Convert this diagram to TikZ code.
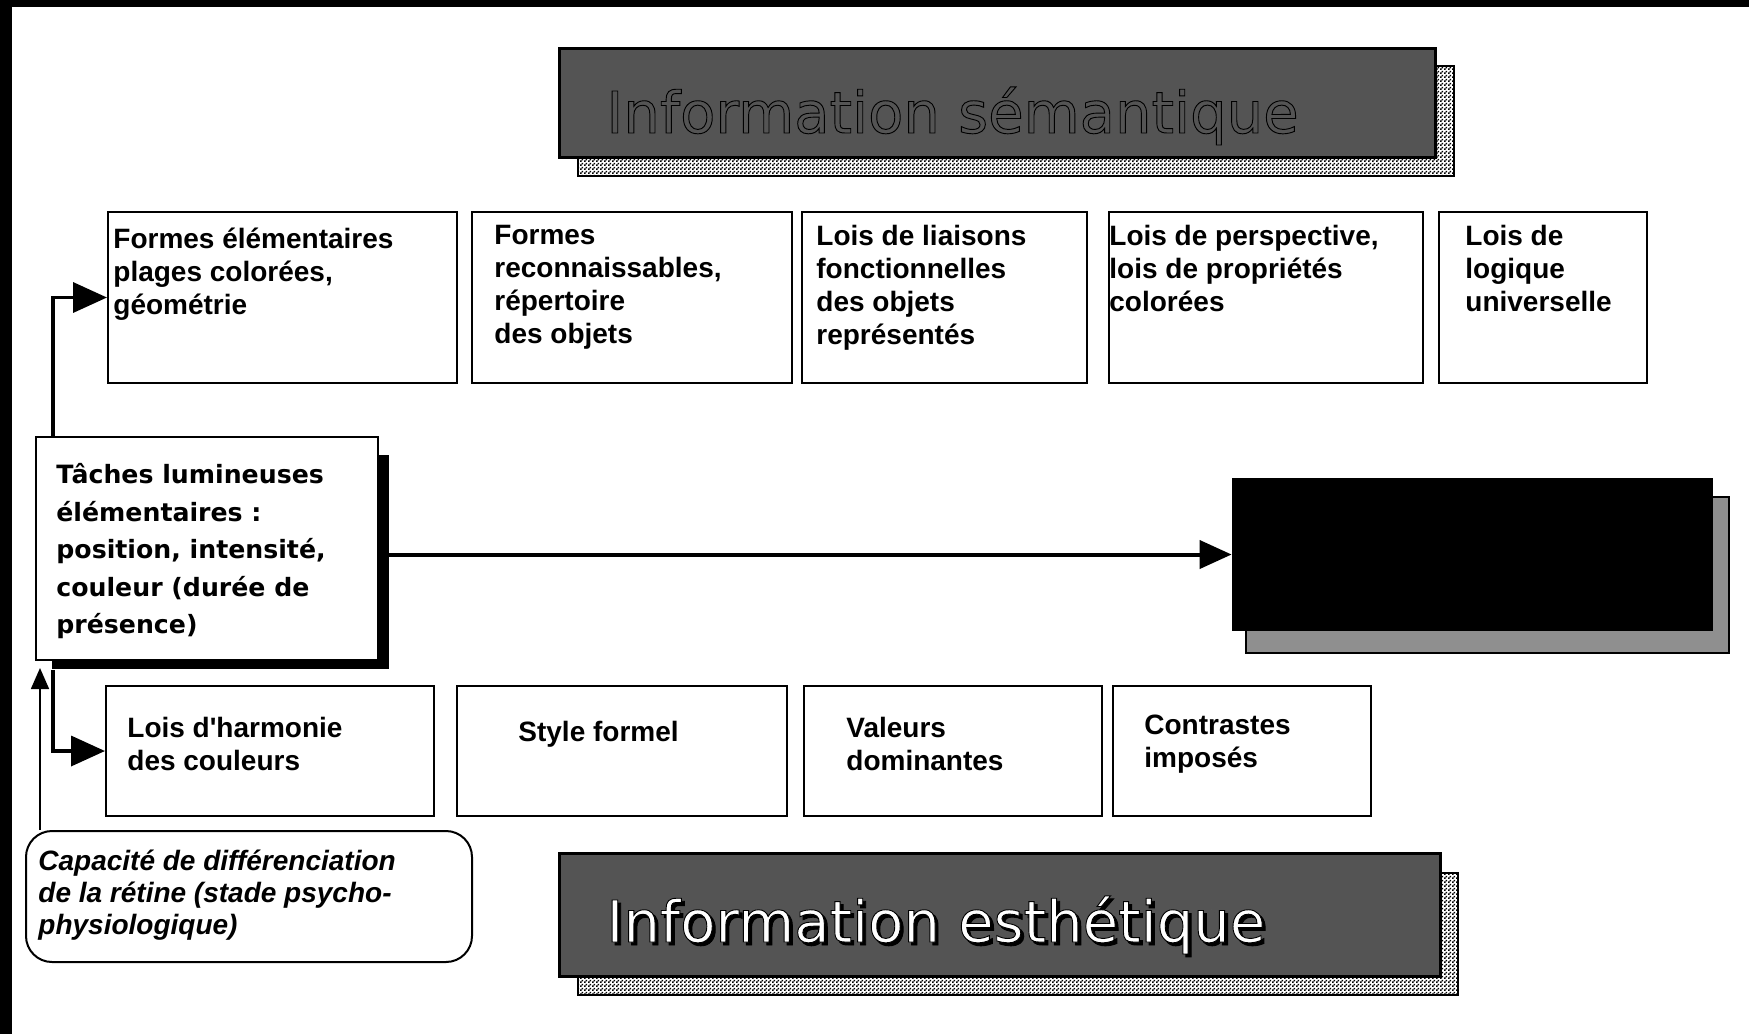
\documentclass[tikz,border=0pt]{standalone}
\usepackage{fontspec}
\newfontfamily\boxfont{Liberation Sans}
\newfontfamily\tachefont{DejaVu Sans}
\newfontfamily\titlefont[FakeBold=1.6]{DejaVu Sans}
\usetikzlibrary{calc,fit,patterns,arrows.meta}
\definecolor{titlegray}{RGB}{84,84,84}
\definecolor{shadowgray}{RGB}{143,143,143}
\pgfdeclarepatternformonly{finecheck}{\pgfqpoint{0pt}{0pt}}{\pgfqpoint{2pt}{2pt}}{\pgfqpoint{2pt}{2pt}}{%
  \pgfpathrectangle{\pgfqpoint{0pt}{0pt}}{\pgfqpoint{1pt}{1pt}}%
  \pgfpathrectangle{\pgfqpoint{1pt}{1pt}}{\pgfqpoint{1pt}{1pt}}%
  \pgfusepath{fill}}

\begin{document}
\begin{tikzpicture}[x=0.5pt,y=-0.5pt,
  cell/.style={draw,line width=1pt,inner sep=0pt},
  celltext/.style={anchor=north west,inner sep=0pt,align=left,
    font=\boxfont\bfseries\fontsize{14}{16.5}\selectfont},
  titlebox/.style={draw,fill=titlegray,line width=1.5pt,inner sep=0pt},
  checkshadow/.style={draw,line width=0.6pt,pattern=finecheck},
  titletext/.style={anchor=base west,inner sep=0pt,
    font=\titlefont\fontsize{28.8}{34}\selectfont},
  thickarrow/.style={line width=1.8pt,-{Triangle[length=17pt,width=15pt]}},
  thinarrow/.style={line width=0.85pt,-{Triangle[length=10.5pt,width=9pt]}}]

\useasboundingbox (0,0) rectangle (1749,1034);
% frame
\fill (0,0) rectangle (1749,7);
\fill (0,0) rectangle (12,1034);

% titles
\draw[checkshadow] (578,66) rectangle (1454,176);
\node[titlebox,fit={(559,48) (1435,157)}] (semBox) {};
\node[titletext,text=titlegray] (sem) at (606,133) {\special{pdf:code 0 G}Information sémantique};

\draw[checkshadow] (578,873) rectangle (1458,995);
\node[titlebox,fit={(559,853) (1440,976)}] (esthBox) {};
\node[titletext,text=black] (esthShadow) at (609,945) {Information esthétique};
\node[titletext,text=white] (esth) at (606,942) {\special{pdf:code 0 G}Information esthétique};

% semantic row
\node[cell,fit={(108,212) (457,383)}] (formes) {};
\node[celltext] (formesT) at (113,228) {Formes élémentaires\\plages colorées,\\géométrie};
\node[cell,fit={(472,212) (792,383)}] (objets) {};
\node[celltext] (objetsT) at (494,225) {Formes\\reconnaissables,\\répertoire\\des objets};
\node[cell,fit={(802,212) (1087,383)}] (liaisons) {};
\node[celltext] (liaisonsT) at (816,225) {Lois de liaisons\\fonctionnelles\\des objets\\représentés};
\node[cell,fit={(1109,212) (1423,383)}] (perspective) {};
\node[celltext] (perspectiveT) at (1109,225) {Lois de perspective,\\lois de propriétés\\colorées};
\node[cell,fit={(1439,212) (1647,383)}] (logique) {};
\node[celltext] (logiqueT) at (1465,225) {Lois de\\logique\\universelle};

% centre
\fill (52,455) rectangle (389,669);
\node[cell,fill=white,fit={(36,437) (378,660)}] (taches) {};
\node[celltext,font=\tachefont\bfseries\fontsize{12.6}{18.75}\selectfont] (tachesT) at (56,463)
  {Tâches lumineuses\\élémentaires :\\position, intensité,\\couleur (durée de\\présence)};

\draw[fill=shadowgray,line width=1pt] (1246,497) rectangle (1729,653);
\node[fill=black,inner sep=0pt,fit={(1232,478) (1713,631)}] (noir) {};

% aesthetic row
\node[cell,fit={(106,686) (434,816)}] (harmonie) {};
\node[celltext] (harmonieT) at (127,717) {Lois d'harmonie\\des couleurs};
\node[cell,fit={(457,686) (787,816)}] (style) {};
\node[celltext] (styleT) at (518,721) {Style formel};
\node[cell,fit={(804,686) (1102,816)}] (valeurs) {};
\node[celltext] (valeursT) at (846,717) {Valeurs\\dominantes};
\node[cell,fit={(1113,686) (1371,816)}] (contrastes) {};
\node[celltext] (contrastesT) at (1144,715) {Contrastes\\imposés};

\node[cell,rounded corners=13pt,fit={(26,831) (472,962)}] (retine) {};
\node[celltext,font=\boxfont\bfseries\itshape\fontsize{14}{16}\selectfont] (retineT) at (38,850)
  {Capacité de différenciation\\de la rétine (stade psycho-\\physiologique)};

% connectors
\draw[thickarrow] ($(taches.north west)+(18,0)$) |- (formes.west);
\draw[thickarrow] ($(taches.south west)+(18,9)$) |- (harmonie.west);
\draw[line width=2pt,-{Triangle[length=16pt,width=14pt]}] (taches.east |- noir.west) -- (noir.west);
\coordinate (tip) at ($(taches.south west)+(5,7)$);
\draw[thinarrow] (retine.north -| tip) -- (tip);
\end{tikzpicture}
\end{document}
